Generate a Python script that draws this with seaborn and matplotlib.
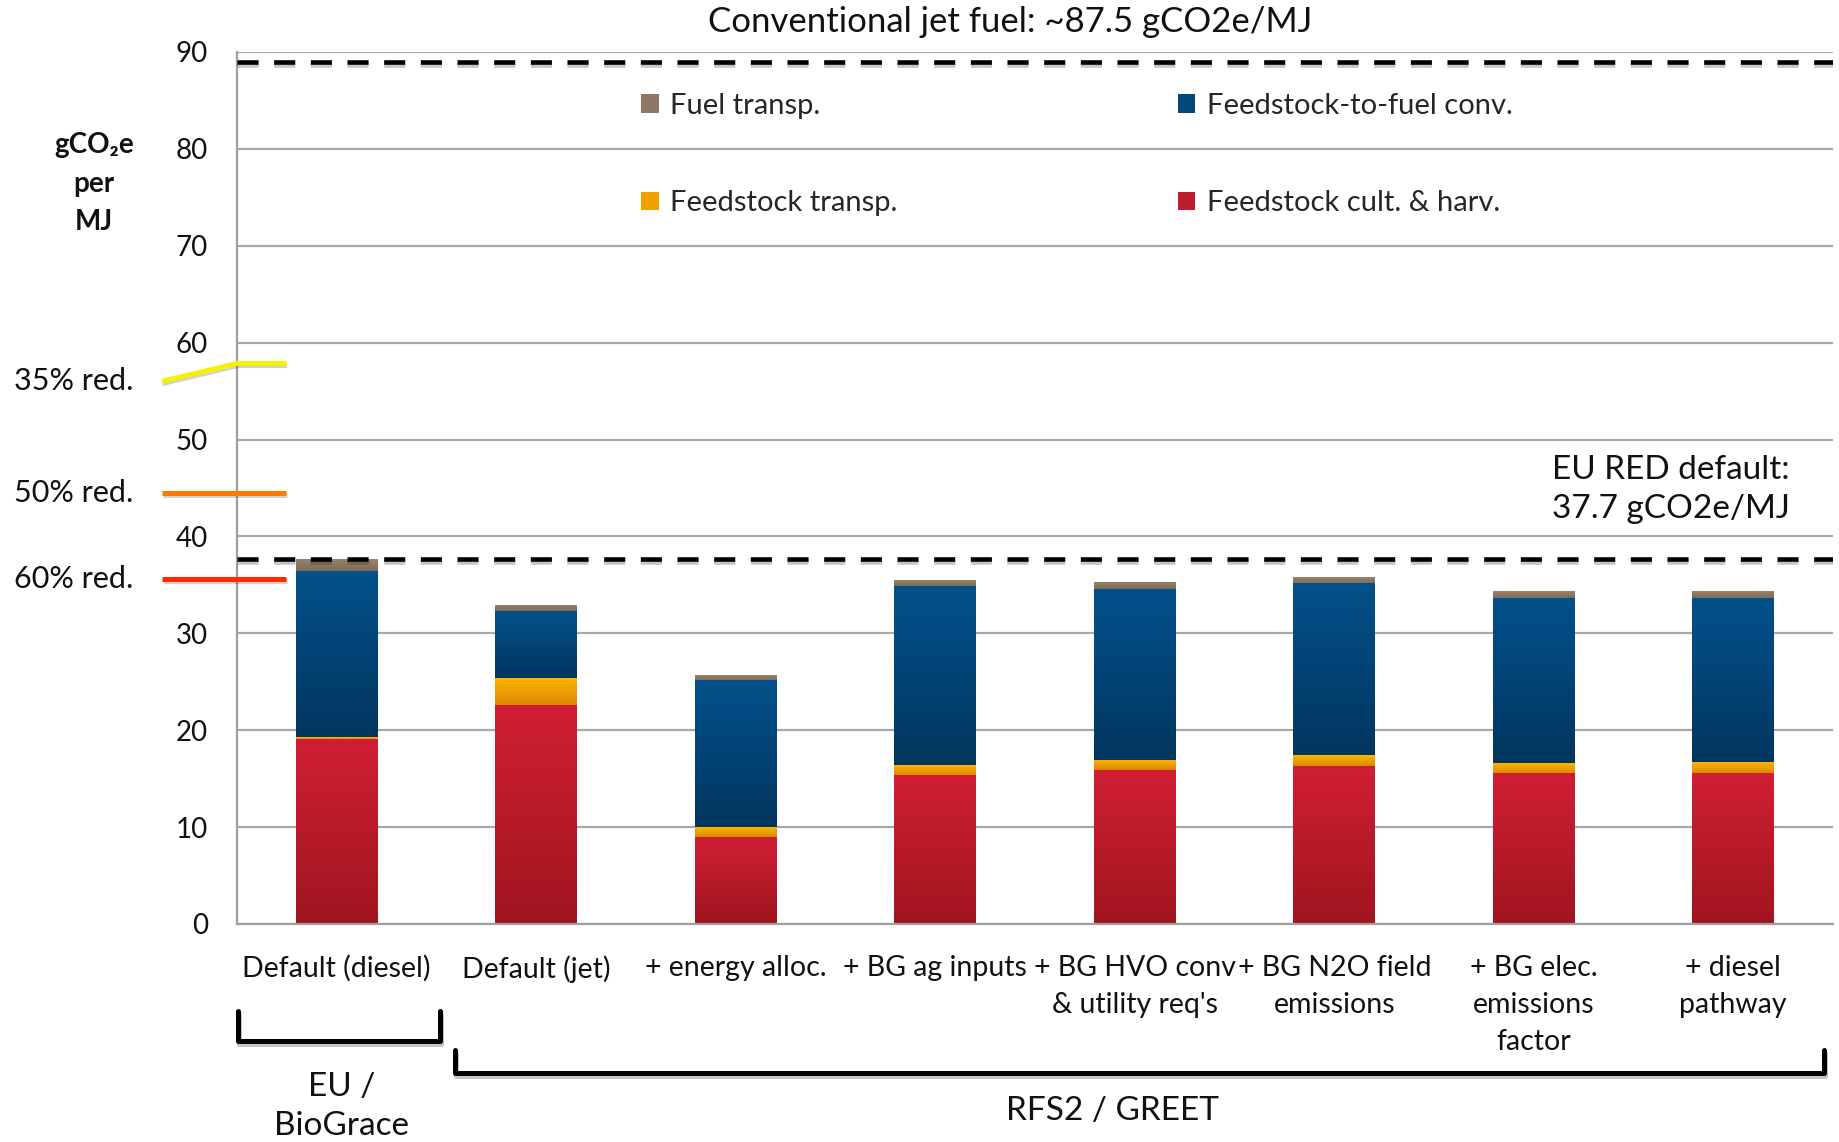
import numpy as np
import pandas as pd
import matplotlib
matplotlib.use("Agg")
import matplotlib.pyplot as plt
import matplotlib.patheffects as pe
from matplotlib.colors import LinearSegmentedColormap
import seaborn as sns

# scenarios along the x axis
scenarios = ["Default (diesel)", "Default (jet)", "+ energy alloc.", "+ BG ag inputs",
             "+ BG HVO conv\n& utility req's", "+ BG N2O field\nemissions",
             "+ BG elec.\nemissions\nfactor", "+ diesel\npathway"]

# gCO2e/MJ per life-cycle stage
cult_harv = [19.0, 22.5, 8.9, 15.3, 15.85, 16.25, 15.5, 15.5]
feed_transp = [0.25, 2.8, 1.1, 1.05, 1.0, 1.15, 1.05, 1.15]
conversion = [17.05, 7.0, 15.1, 18.5, 17.7, 17.65, 17.05, 16.95]
fuel_transp = [1.3, 0.6, 0.6, 0.6, 0.7, 0.65, 0.7, 0.7]

jet_fuel_line = 89.0      # conventional jet fuel reference line
eu_red_default = 37.7
reductions = [0.35, 0.50, 0.60]
red_labels = ["35% red.", "50% red.", "60% red."]
red_label_y = [56.0, 44.5, 35.6]
red_colors = ["#F5F200", "#FF7B00", "#FF2A00"]

stage_names = ["Fuel transp.", "Feedstock-to-fuel conv.", "Feedstock transp.", "Feedstock cult. & harv."]
stage_colors = ["#8C7862", "#02477A", "#F0A300", "#BE1C2E"]
stage_shades = [("#978369", "#7E6B56"), ("#03518B", "#01365F"),
                ("#FFB400", "#D98600"), ("#D01F34", "#A0151F")]

df = pd.DataFrame({"scenario": scenarios})
df["lvl1"] = np.array(cult_harv)
df["lvl2"] = df["lvl1"] + np.array(feed_transp)
df["lvl3"] = df["lvl2"] + np.array(conversion)
df["lvl4"] = df["lvl3"] + np.array(fuel_transp)

sns.set_theme(style="white")
plt.rcParams["font.family"] = ["Lato", "DejaVu Sans"]

fig = plt.figure(figsize=(18.39, 11.42), dpi=100)
ax = fig.add_axes([237 / 1839, 1 - 924 / 1142, (1833 - 237) / 1839, (924 - 52) / 1142])

# stacked bars by layering cumulative totals
for col, name, c in zip(["lvl4", "lvl3", "lvl2", "lvl1"], stage_names, stage_colors):
    sns.barplot(data=df, x="scenario", y=col, color=c, width=0.41, saturation=1,
                errorbar=None, linewidth=0, label=name, ax=ax)

# vertical gradient on each visible segment
conts = ax.containers
for i, cont in enumerate(conts):
    cmap = LinearSegmentedColormap.from_list("g%d" % i, stage_shades[i])
    for j, bar in enumerate(cont.patches):
        top = bar.get_y() + bar.get_height()
        low = conts[i + 1].patches[j].get_height() if i + 1 < len(conts) else 0
        ax.imshow(np.linspace(0, 1, 128).reshape(-1, 1), cmap=cmap, aspect="auto",
                  origin="upper", extent=[bar.get_x(), bar.get_x() + bar.get_width(), low, top],
                  zorder=2, interpolation="bilinear")

ax.set_xlim(-0.5, 7.5)
ax.set_ylim(0, 90)
ax.set_yticks(np.arange(0, 91, 10))
ax.set_xticks(np.arange(-0.5, 8, 1), minor=True)
ax.set_xlabel("")
ax.set_ylabel("")
ax.yaxis.grid(True, color="#A8A8A8", lw=1.6)
ax.set_axisbelow(True)
for s in ["top", "right"]:
    ax.spines[s].set_visible(False)
for s in ["left", "bottom"]:
    ax.spines[s].set_color("#A0A0A0")
    ax.spines[s].set_linewidth(1.6)
ax.tick_params(axis="y", length=7, width=1.5, color="#A0A0A0", pad=14, labelsize=20, labelcolor="#111111")
ax.tick_params(axis="x", which="major", length=0, pad=22.5, labelsize=20.5, labelcolor="#111111")
ax.tick_params(axis="x", which="minor", length=7, width=1.5, color="#A0A0A0")
ax.set_xticks(range(len(scenarios)))
ax.set_xticklabels(scenarios, linespacing=1.52, va="top")

shadow = [pe.SimpleLineShadow(offset=(0, -2.5), shadow_color="k", alpha=0.25), pe.Normal()]

# reference lines
for yv in [jet_fuel_line, eu_red_default]:
    ax.axhline(yv, color="black", lw=3.3, dashes=(4.6, 3.4), zorder=4, path_effects=shadow)

ax.text(0.4843, 1.034, "Conventional jet fuel: ~87.5 gCO2e/MJ", transform=ax.transAxes,
        ha="center", va="center", fontsize=25, color="#111111")
ax.text(0.8985, 44.85, "EU RED default:\n37.7 gCO2e/MJ", transform=ax.get_yaxis_transform(),
        ha="center", va="center", fontsize=24, color="#111111", linespacing=1.4)

# GHG reduction thresholds on the left
ytr = ax.get_yaxis_transform()
for r, lab, ly, c in zip(reductions, red_labels, red_label_y, red_colors):
    lvl = jet_fuel_line * (1 - r)
    ax.plot([-0.047, 0.0, 0.031], [ly, lvl, lvl], color=c, lw=3.6, transform=ytr,
            clip_on=False, zorder=5, solid_capstyle="butt",
            path_effects=[pe.SimpleLineShadow(offset=(0.5, -1.5), alpha=0.2), pe.Normal()])
    ax.text(-0.1025, ly, lab, transform=ytr, ha="center", va="center", fontsize=22, color="#111111")

ax.text(-0.0896, 0.849, "gCO\u2082e\nper\nMJ", transform=ax.transAxes, ha="center", va="center",
        fontsize=20, fontweight="bold", linespacing=1.6, color="#111111")

# legend, 2 x 2
h, l = ax.get_legend_handles_labels()
order = [0, 2, 1, 3]
ax.legend([h[k] for k in order], [l[k] for k in order], ncol=2, frameon=False,
          loc="upper left", bbox_to_anchor=(0.244, 0.970), fontsize=21,
          handlelength=0.6, handleheight=0.6, handletextpad=0.4,
          labelspacing=2.45, columnspacing=9.6, borderpad=0)

# method brackets under the axis
xtr = ax.get_xaxis_transform()
brackets = [(-0.495, 0.517, -0.0998, -0.134, "EU /\nBioGrace", 0.026, -0.2095),
            (0.593, 7.455, -0.1445, -0.171, "RFS2 / GREET", 3.886, -0.214)]
for x0, x1, ytop, ybot, lab, tx, ty in brackets:
    ax.plot([x0, x0, x1, x1], [ytop, ybot, ybot, ytop], color="black", lw=3.6, transform=xtr,
            clip_on=False, solid_joinstyle="round",
            path_effects=[pe.SimpleLineShadow(offset=(1, -2), alpha=0.25), pe.Normal()])
    ax.text(tx, ty, lab, transform=xtr, ha="center", va="center", fontsize=24,
            color="#111111", linespacing=1.4)

fig.savefig("out.png", dpi=100)
